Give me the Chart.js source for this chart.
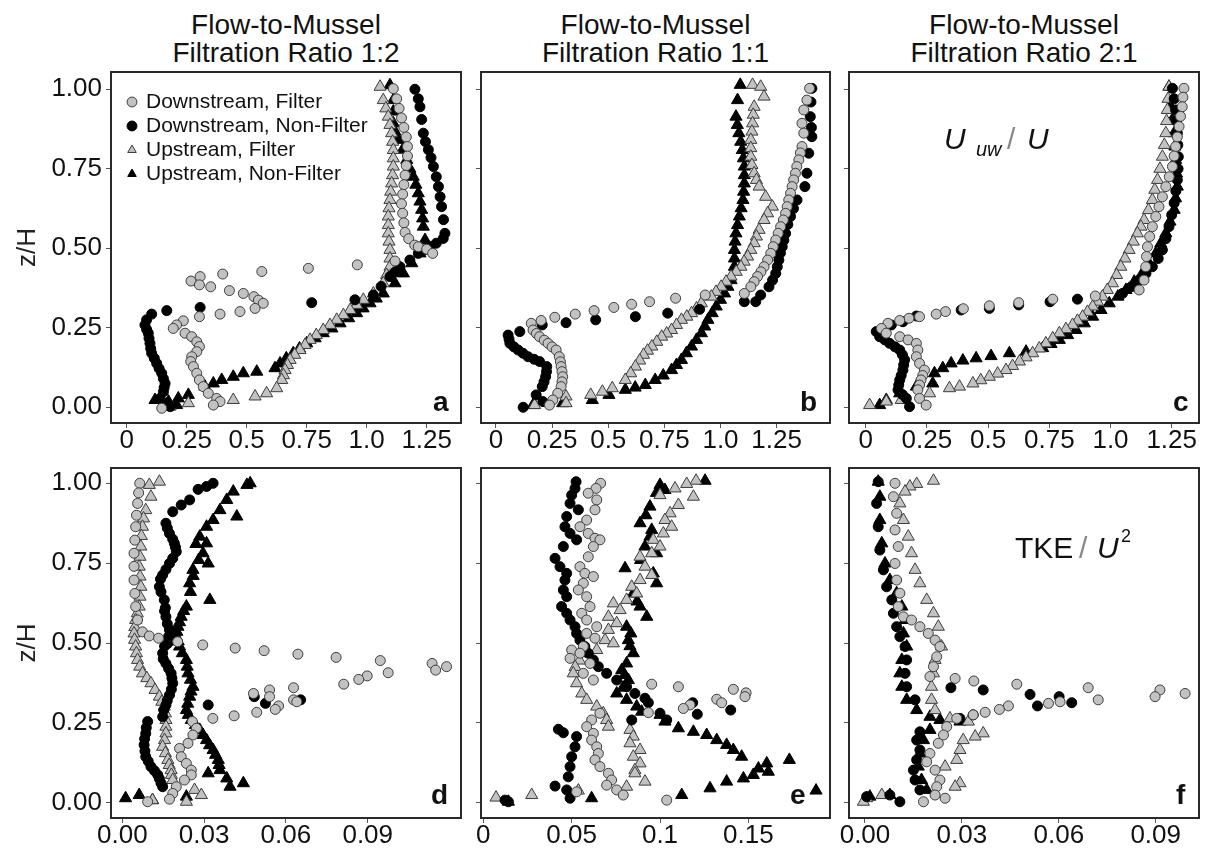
<!DOCTYPE html>
<html lang="en">
<head>
<meta charset="UTF-8" />
<title>Flow-to-Mussel profiles</title>
<script src="https://cdn.jsdelivr.net/npm/chart.js@4.4.1/dist/chart.umd.min.js"></script>
<style>
  body { margin: 0; width: 1207px; height: 852px; position: relative; overflow: hidden; background: #fff;
         font-family: "Liberation Sans", Arial, sans-serif; color: #111; }
  canvas { position: absolute; }
  .ttl { position: absolute; top: 11px; text-align: center; font-size: 28px; line-height: 28px; }
  .tag { position: absolute; font-size: 28px; line-height: 28px; font-weight: bold; }
  .ann { position: absolute; font-size: 30px; line-height: 30px; white-space: nowrap; }
</style>
</head>
<body>
<div class="ttl" style="left:111px;width:350px">Flow-to-Mussel<br>Filtration Ratio 1:2</div>
<div class="ttl" style="left:481px;width:349px">Flow-to-Mussel<br>Filtration Ratio 1:1</div>
<div class="ttl" style="left:849px;width:350px">Flow-to-Mussel<br>Filtration Ratio 2:1</div>

<script>
// tick values / labels
const Z_TICKS = [0, 0.25, 0.5, 0.75, 1];
const Z_LABELS = ["0.00", "0.25", "0.50", "0.75", "1.00"];
const U_TICKS = [0, 0.25, 0.5, 0.75, 1, 1.25];
const U_LABELS = ["0", "0.25", "0.5", "0.75", "1.0", "1.25"];
const TKE_TICKS = [0, 0.03, 0.06, 0.09];
const TKE_LABELS = ["0.00", "0.03", "0.06", "0.09"];
const E_TICKS = [0, 0.05, 0.1, 0.15];
const E_LABELS = ["0", "0.05", "0.1", "0.15"];
const SERIES = ["Downstream, Filter", "Downstream, Non-Filter", "Upstream, Filter", "Upstream, Non-Filter"];

// (a) Uuw/U, ratio 1:2   [x, z/H]
const aDF = [[1.111,1.002],[1.125,0.97],[1.135,0.94],[1.145,0.91],[1.155,0.88],[1.165,0.85],[1.17,0.82],[1.17,0.79],[1.165,0.76],[1.16,0.73],[1.155,0.7],[1.15,0.67],[1.145,0.64],[1.15,0.61],[1.155,0.58],[1.16,0.55],[1.175,0.53],[1.2,0.51],[1.215,0.505],[1.25,0.497],[1.275,0.484],[1.118,0.46],
  [0.961,0.448],[0.757,0.437],[0.563,0.427],[0.4,0.419],[0.306,0.411],[0.268,0.397],[0.303,0.385],[0.35,0.379],[0.428,0.367],[0.486,0.358],[0.53,0.348],[0.549,0.337],[0.569,0.327],[0.535,0.311],[0.472,0.301],[0.389,0.293],[0.303,0.285],
  [0.236,0.272],[0.208,0.259],[0.194,0.248],[0.243,0.233],[0.271,0.222],[0.292,0.206],[0.303,0.191],[0.292,0.175],[0.271,0.159],[0.267,0.144],[0.278,0.128],[0.292,0.107],[0.303,0.086],[0.319,0.065],[0.34,0.044],[0.375,0.028],[0.389,0.018],[0.361,0.007],[0.146,-0.003]];
const aDNF = [[1.201,1.0],[1.215,0.97],[1.222,0.945],[1.229,0.905],[1.236,0.862],[1.245,0.835],[1.257,0.81],[1.268,0.785],[1.278,0.757],[1.29,0.725],[1.299,0.694],[1.306,0.662],[1.312,0.631],[1.32,0.59],[1.326,0.547],[1.319,0.531],[1.29,0.516],[1.264,0.505],[1.24,0.495],[1.215,0.484],[1.18,0.463],[1.139,0.442],[1.118,0.425],[1.097,0.411],[1.06,0.38],[1.028,0.353],[0.951,0.338],
  [0.771,0.329],[0.306,0.314],[0.167,0.304],
  [0.104,0.293],[0.083,0.275],[0.076,0.259],[0.083,0.245],[0.09,0.233],[0.093,0.217],[0.097,0.201],[0.1,0.185],[0.104,0.17],[0.115,0.154],[0.125,0.138],[0.135,0.122],[0.146,0.107],[0.153,0.09],[0.16,0.075],[0.156,0.062],[0.153,0.049],[0.139,0.028],[0.167,0.013],[0.181,0.002]];
const aUF = [[1.056,1.008],[1.069,0.966],[1.08,0.94],[1.09,0.914],[1.097,0.888],[1.104,0.862],[1.108,0.835],[1.111,0.809],[1.111,0.783],[1.111,0.757],[1.108,0.73],[1.104,0.704],[1.1,0.678],[1.097,0.652],[1.093,0.626],[1.09,0.6],[1.09,0.573],[1.09,0.547],[1.093,0.521],[1.097,0.495],[1.097,0.468],[1.097,0.442],[1.083,0.416],[1.069,0.39],[1.028,0.358],[0.986,0.338],[0.958,0.322],[0.931,0.306],[0.903,0.29],[0.875,0.275],[0.847,0.259],[0.819,0.243],[0.79,0.227],[0.764,0.212],[0.743,0.196],[0.722,0.18],[0.7,0.165],[0.681,0.149],[0.67,0.133],[0.66,0.117],[0.653,0.101],[0.646,0.086],[0.625,0.06],[0.583,0.044],[0.535,0.034],[0.444,0.023],[0.257,0.013],[0.181,0.002]];
const aUNF = [[1.097,1.013],[1.111,0.966],[1.111,0.93],[1.111,0.893],[1.118,0.867],[1.132,0.841],[1.15,0.81],[1.167,0.778],[1.18,0.75],[1.194,0.725],[1.205,0.7],[1.215,0.673],[1.222,0.647],[1.229,0.621],[1.233,0.594],[1.236,0.568],[1.243,0.526],[1.222,0.484],[1.188,0.453],[1.153,0.421],[1.118,0.39],[1.069,0.358],[1.04,0.342],[1.014,0.327],[0.985,0.311],[0.958,0.296],[0.925,0.28],[0.889,0.264],[0.855,0.248],[0.819,0.233],[0.785,0.217],[0.75,0.201],[0.72,0.185],[0.694,0.17],[0.665,0.154],[0.639,0.138],[0.618,0.123],[0.542,0.112],[0.486,0.107],[0.444,0.096],[0.396,0.086],[0.361,0.075],[0.326,0.065],[0.257,0.039],[0.215,0.028],[0.174,0.018],[0.118,0.023],[0.208,0.007]];

// (b) Uuw/U, ratio 1:1
const bDF = [[1.397,1.003],[1.385,0.966],[1.371,0.935],[1.363,0.893],[1.371,0.862],[1.363,0.82],[1.356,0.8],[1.349,0.778],[1.34,0.757],[1.334,0.736],[1.326,0.715],[1.319,0.694],[1.312,0.673],[1.304,0.652],[1.297,0.631],[1.29,0.61],[1.28,0.589],[1.268,0.568],[1.257,0.547],[1.246,0.526],[1.235,0.505],[1.224,0.484],[1.21,0.463],[1.194,0.442],[1.18,0.426],[1.165,0.411],[1.15,0.395],[1.135,0.379],[1.106,0.358],
  [0.932,0.353],[0.8,0.343],[0.684,0.332],[0.604,0.324],[0.525,0.314],[0.437,0.304],[0.353,0.293],[0.262,0.283],[0.201,0.273],
  [0.157,0.264],[0.165,0.243],[0.18,0.232],[0.194,0.222],[0.215,0.211],[0.232,0.201],[0.25,0.19],[0.268,0.18],[0.282,0.159],[0.287,0.143],[0.29,0.128],[0.294,0.112],[0.297,0.096],[0.294,0.08],[0.29,0.065],[0.275,0.044],[0.253,0.023],[0.238,0.007]];
const bDNF = [[1.407,1.003],[1.403,0.96],[1.4,0.914],[1.405,0.88],[1.407,0.851],[1.393,0.799],[1.385,0.736],[1.376,0.694],[1.341,0.652],[1.325,0.625],[1.312,0.6],[1.3,0.575],[1.29,0.547],[1.282,0.525],[1.275,0.505],[1.267,0.485],[1.26,0.463],[1.253,0.442],[1.246,0.421],[1.232,0.4],[1.216,0.379],[1.179,0.353],[1.157,0.332],[1.106,0.332],
  [0.907,0.308],[0.765,0.296],[0.621,0.285],[0.444,0.275],[0.312,0.266],[0.206,0.259],[0.106,0.238],
  [0.054,0.227],[0.058,0.214],[0.062,0.201],[0.08,0.19],[0.099,0.18],[0.12,0.17],[0.143,0.159],[0.17,0.151],[0.194,0.144],[0.226,0.128],[0.225,0.112],[0.221,0.096],[0.214,0.08],[0.206,0.065],[0.179,0.039],[0.209,0.018],[0.121,0.0]];
const bUF = [[1.143,1.014],[1.179,1.008],[1.194,0.977],[1.15,0.945],[1.146,0.92],[1.143,0.893],[1.14,0.867],[1.135,0.841],[1.135,0.815],[1.135,0.788],[1.14,0.762],[1.15,0.736],[1.16,0.715],[1.172,0.694],[1.201,0.662],[1.231,0.631],[1.21,0.61],[1.194,0.589],[1.172,0.558],[1.16,0.537],[1.15,0.516],[1.135,0.495],[1.121,0.474],[1.105,0.458],[1.091,0.442],[1.07,0.426],[1.047,0.411],[1.025,0.395],[1.003,0.379],[0.98,0.363],[0.959,0.348],[0.915,0.327],[0.893,0.311],[0.871,0.296],[0.85,0.285],[0.826,0.275],[0.804,0.259],[0.782,0.243],[0.76,0.232],[0.738,0.222],[0.716,0.206],[0.694,0.191],[0.675,0.178],[0.657,0.165],[0.64,0.147],[0.621,0.128],[0.6,0.107],[0.576,0.086],[0.518,0.06],[0.474,0.049],[0.422,0.039],[0.312,0.034],[0.312,0.013],[0.172,0.007]];
const bUNF = [[1.088,1.014],[1.076,0.966],[1.069,0.914],[1.075,0.888],[1.082,0.862],[1.09,0.835],[1.097,0.809],[1.102,0.783],[1.106,0.757],[1.106,0.73],[1.106,0.704],[1.103,0.678],[1.1,0.652],[1.092,0.626],[1.084,0.6],[1.076,0.573],[1.069,0.547],[1.065,0.521],[1.062,0.495],[1.062,0.468],[1.062,0.442],[1.047,0.4],[1.033,0.379],[1.018,0.358],[1.0,0.338],[0.981,0.317],[0.963,0.296],[0.944,0.275],[0.93,0.254],[0.915,0.233],[0.893,0.212],[0.871,0.191],[0.848,0.17],[0.826,0.149],[0.804,0.133],[0.782,0.117],[0.745,0.1],[0.709,0.086],[0.665,0.07],[0.62,0.062],[0.576,0.055],[0.503,0.039],[0.429,0.023],[0.297,0.013],[0.165,0.007]];

// (c) Uuw/U, ratio 2:1
const cDF = [[1.3,1.003],[1.296,0.975],[1.293,0.945],[1.286,0.915],[1.28,0.883],[1.273,0.85],[1.266,0.82],[1.26,0.79],[1.253,0.757],[1.24,0.725],[1.226,0.694],[1.212,0.662],[1.198,0.631],[1.185,0.6],[1.171,0.568],[1.16,0.537],[1.151,0.505],[1.147,0.474],[1.144,0.442],[1.137,0.4],[1.117,0.369],
  [0.938,0.35],[0.764,0.34],[0.625,0.329],[0.505,0.319],[0.399,0.31],[0.326,0.301],[0.288,0.293],[0.22,0.285],[0.177,0.28],[0.139,0.273],[0.091,0.264],
  [0.064,0.248],[0.084,0.233],[0.139,0.222],[0.173,0.212],[0.207,0.201],[0.213,0.18],[0.207,0.159],[0.22,0.138],[0.24,0.117],[0.233,0.1],[0.226,0.086],[0.22,0.07],[0.213,0.055],[0.22,0.028],[0.247,0.007]];
const cDNF = [[1.253,1.003],[1.26,0.97],[1.266,0.935],[1.27,0.9],[1.273,0.862],[1.275,0.825],[1.277,0.788],[1.276,0.75],[1.273,0.715],[1.267,0.68],[1.26,0.642],[1.25,0.605],[1.239,0.568],[1.226,0.53],[1.212,0.495],[1.195,0.468],[1.171,0.442],[1.145,0.421],[1.117,0.4],[1.085,0.379],[1.049,0.358],
  [0.865,0.34],[0.753,0.332],[0.625,0.322],[0.505,0.311],[0.39,0.306],[0.207,0.287],[0.152,0.269],[0.105,0.259],
  [0.043,0.238],[0.057,0.222],[0.078,0.212],[0.098,0.201],[0.12,0.19],[0.139,0.18],[0.15,0.165],[0.159,0.149],[0.155,0.133],[0.152,0.117],[0.145,0.1],[0.139,0.086],[0.135,0.07],[0.132,0.055],[0.15,0.04],[0.166,0.028],[0.179,0.002]];
const cUF = [[1.239,1.008],[1.235,0.97],[1.232,0.935],[1.229,0.9],[1.226,0.862],[1.22,0.825],[1.212,0.788],[1.202,0.75],[1.192,0.715],[1.181,0.684],[1.171,0.652],[1.155,0.62],[1.137,0.589],[1.124,0.568],[1.11,0.547],[1.093,0.521],[1.076,0.495],[1.059,0.468],[1.042,0.442],[1.025,0.416],[1.008,0.39],[0.987,0.369],[0.967,0.348],[0.947,0.332],[0.927,0.317],[0.906,0.3],[0.886,0.285],[0.865,0.272],[0.845,0.259],[0.818,0.246],[0.791,0.233],[0.764,0.217],[0.736,0.201],[0.709,0.185],[0.682,0.17],[0.655,0.157],[0.628,0.144],[0.6,0.13],[0.573,0.117],[0.539,0.106],[0.505,0.096],[0.47,0.085],[0.438,0.075],[0.383,0.065],[0.342,0.06],[0.261,0.044],[0.145,0.023],[0.084,0.018],[0.016,0.007]];
const cUNF = [[1.239,1.008],[1.246,0.945],[1.253,0.905],[1.26,0.862],[1.263,0.82],[1.266,0.778],[1.27,0.735],[1.273,0.694],[1.266,0.657],[1.26,0.621],[1.243,0.584],[1.226,0.547],[1.205,0.515],[1.185,0.484],[1.158,0.452],[1.13,0.421],[1.097,0.395],[1.063,0.369],[1.03,0.348],[0.995,0.327],[0.961,0.306],[0.927,0.285],[0.893,0.264],[0.859,0.243],[0.825,0.227],[0.791,0.212],[0.757,0.199],[0.723,0.186],[0.655,0.175],[0.587,0.17],[0.512,0.161],[0.451,0.154],[0.397,0.147],[0.349,0.138],[0.315,0.123],[0.281,0.107],[0.274,0.075],[0.207,0.065],[0.139,0.044],[0.084,0.023],[0.057,0.007]];

// (d) TKE/U^2, ratio 1:2
const dDF = [[0.0064,1.0],[0.006,0.97],[0.0056,0.937],[0.0052,0.9],[0.0049,0.864],[0.0046,0.822],[0.0043,0.781],[0.0043,0.74],[0.0043,0.697],[0.0046,0.655],[0.0049,0.614],[0.0056,0.572],[0.0074,0.535],[0.0099,0.522],[0.0133,0.515],
  [0.0203,0.504],[0.0295,0.494],[0.0414,0.484],[0.052,0.476],[0.0644,0.465],[0.0784,0.455],[0.0946,0.445],[0.1136,0.436],[0.1189,0.426],[0.1149,0.415],[0.0975,0.407],[0.0898,0.397],[0.0867,0.386],[0.0812,0.371],[0.0628,0.36],[0.054,0.353],[0.0481,0.342],[0.054,0.332],[0.0628,0.322],[0.064,0.316],[0.0573,0.303],[0.0561,0.292],[0.0493,0.283],[0.041,0.272],[0.0332,0.264],[0.0257,0.254],
  [0.0272,0.233],[0.0259,0.212],[0.0241,0.186],[0.021,0.17],[0.0216,0.144],[0.0235,0.123],[0.0253,0.102],[0.0253,0.087],[0.0228,0.071],[0.0198,0.05],[0.0185,0.029],[0.0173,0.011],[0.0093,0.003]];
const dDNF = [[0.0333,1.0],[0.0309,0.99],[0.0278,0.981],[0.0247,0.948],[0.0216,0.932],[0.0185,0.911],[0.016,0.875],[0.0165,0.86],[0.0173,0.843],[0.0185,0.825],[0.0191,0.812],[0.0195,0.8],[0.0198,0.786],[0.0185,0.765],[0.0173,0.749],[0.016,0.73],[0.0148,0.713],[0.014,0.7],[0.0136,0.676],[0.0142,0.66],[0.0154,0.635],[0.0158,0.61],[0.0155,0.6],[0.016,0.582],[0.0165,0.56],[0.0173,0.541],[0.017,0.52],[0.0167,0.499],[0.0155,0.49],[0.0148,0.468],[0.015,0.45],[0.016,0.436],[0.017,0.42],[0.0179,0.405],[0.0182,0.39],[0.0185,0.374],[0.018,0.355],[0.0173,0.337],[0.0165,0.32],[0.016,0.306],[0.0152,0.29],[0.0148,0.269],
  [0.0315,0.306],[0.0484,0.332],[0.0525,0.311],[0.0654,0.322],
  [0.0093,0.254],[0.0088,0.235],[0.0086,0.217],[0.0082,0.2],[0.008,0.181],[0.0083,0.162],[0.0086,0.144],[0.0095,0.13],[0.0105,0.113],[0.0118,0.1],[0.013,0.087],[0.0136,0.075],[0.0142,0.061],[0.0148,0.05]];
const dUF = [[0.0136,1.005],[0.0099,0.995],[0.0105,0.958],[0.0086,0.916],[0.0078,0.89],[0.0074,0.864],[0.007,0.835],[0.0068,0.802],[0.0065,0.77],[0.0062,0.739],[0.0065,0.708],[0.0068,0.676],[0.0065,0.645],[0.0062,0.614],[0.0055,0.593],[0.0049,0.572],[0.0046,0.55],[0.0043,0.53],[0.0045,0.51],[0.0049,0.489],[0.0052,0.468],[0.0056,0.447],[0.0064,0.426],[0.0074,0.405],[0.009,0.39],[0.0105,0.374],[0.012,0.353],[0.0136,0.332],[0.0145,0.316],[0.0154,0.301],[0.0158,0.28],[0.016,0.259],[0.016,0.238],[0.016,0.217],[0.0155,0.196],[0.0148,0.175],[0.0158,0.155],[0.0167,0.134],[0.0172,0.118],[0.0179,0.102],[0.018,0.087],[0.0185,0.071],[0.0265,0.04],[0.029,0.024],[0.0235,0.003],[0.0111,0.008]];
const dUNF = [[0.0469,1.0],[0.0457,0.995],[0.0407,0.974],[0.0383,0.948],[0.0358,0.916],[0.042,0.896],[0.0333,0.885],[0.0309,0.864],[0.0284,0.833],[0.0309,0.812],[0.027,0.81],[0.0296,0.781],[0.028,0.76],[0.0315,0.749],[0.0259,0.729],[0.026,0.71],[0.0247,0.687],[0.025,0.66],[0.0321,0.635],[0.0235,0.614],[0.0225,0.6],[0.0216,0.582],[0.021,0.565],[0.0204,0.551],[0.02,0.535],[0.0198,0.52],[0.0205,0.505],[0.021,0.489],[0.022,0.468],[0.0235,0.447],[0.0238,0.426],[0.0241,0.405],[0.025,0.385],[0.0259,0.363],[0.0252,0.348],[0.0247,0.332],[0.024,0.31],[0.0235,0.29],[0.0242,0.275],[0.0253,0.259],[0.0268,0.243],[0.0284,0.228],[0.0296,0.212],[0.0309,0.196],[0.032,0.18],[0.0333,0.165],[0.0342,0.15],[0.0352,0.134],[0.0355,0.118],[0.0358,0.102],[0.0315,0.092],[0.0383,0.076],[0.0444,0.061],[0.0395,0.05],[0.0235,0.019],[0.0111,0.008],[0.0062,0.024],[0.0012,0.014]];

// (e) TKE/U^2, ratio 1:1
const eDF = [[0.0664,1.0],[0.0638,0.984],[0.0594,0.969],[0.0642,0.948],[0.0632,0.917],[0.0585,0.885],[0.0547,0.864],[0.0594,0.843],[0.0632,0.828],[0.066,0.823],[0.0623,0.802],[0.0594,0.77],[0.0547,0.739],[0.0575,0.718],[0.0623,0.708],[0.0566,0.687],[0.0538,0.666],[0.0585,0.645],[0.0604,0.614],[0.0557,0.593],[0.0585,0.572],[0.0642,0.551],[0.0585,0.53],[0.0632,0.515],[0.0566,0.489],[0.05,0.478],[0.0491,0.452],[0.0547,0.468],[0.0604,0.436],[0.0566,0.405],[0.0623,0.384],
  [0.0953,0.371],[0.1104,0.363],[0.1415,0.355],[0.1487,0.344],[0.1481,0.332],[0.1321,0.324],[0.1349,0.313],[0.117,0.306],[0.1132,0.295],[0.0934,0.282],
  [0.066,0.28],[0.0613,0.259],[0.0585,0.238],[0.0623,0.217],[0.0613,0.196],[0.0642,0.175],[0.0651,0.154],[0.0632,0.134],[0.066,0.113],[0.0708,0.092],[0.0726,0.071],[0.0698,0.055],[0.0755,0.04],[0.0792,0.024],[0.0528,0.034],[0.1038,0.008]];
const eDNF = [[0.0525,1.005],[0.0519,0.984],[0.05,0.963],[0.0491,0.937],[0.0538,0.917],[0.0472,0.896],[0.0462,0.864],[0.0491,0.843],[0.0528,0.823],[0.0453,0.802],[0.0406,0.765],[0.0434,0.739],[0.0472,0.718],[0.0462,0.697],[0.0453,0.666],[0.0472,0.645],[0.0443,0.614],[0.0472,0.593],[0.0491,0.572],[0.0519,0.551],[0.0528,0.53],[0.0547,0.509],[0.0575,0.489],[0.0594,0.468],[0.0623,0.447],[0.0651,0.426],[0.0698,0.405],[0.0755,0.384],[0.0811,0.363],[0.0858,0.342],[0.0915,0.327],[0.0934,0.313],
  [0.084,0.259],[0.1,0.28],[0.1038,0.259],[0.1185,0.313],[0.1211,0.277],[0.14,0.29],
  [0.0425,0.23],[0.0453,0.219],[0.0528,0.207],[0.0519,0.175],[0.05,0.144],[0.0491,0.113],[0.0481,0.081],[0.0406,0.052],[0.0472,0.04],[0.0491,0.014],[0.0142,0.003],[0.0123,0.008]];
const eUF = [[0.1204,1.008],[0.1151,0.998],[0.1085,0.984],[0.1,0.963],[0.1189,0.958],[0.1104,0.932],[0.1057,0.906],[0.1028,0.885],[0.1066,0.864],[0.1019,0.843],[0.0962,0.823],[0.1,0.802],[0.0953,0.781],[0.0887,0.77],[0.0915,0.739],[0.0953,0.713],[0.0887,0.697],[0.084,0.676],[0.0868,0.655],[0.0811,0.635],[0.0736,0.624],[0.0774,0.603],[0.0708,0.582],[0.0755,0.562],[0.0708,0.541],[0.0689,0.509],[0.0736,0.499],[0.0642,0.478],[0.0594,0.468],[0.0545,0.445],[0.052,0.425],[0.0509,0.405],[0.0528,0.374],[0.0557,0.342],[0.0585,0.322],[0.0642,0.301],[0.0679,0.28],[0.0698,0.259],[0.0708,0.238],[0.083,0.228],[0.0849,0.207],[0.083,0.186],[0.0887,0.165],[0.0849,0.144],[0.0887,0.123],[0.0858,0.102],[0.0858,0.092],[0.0915,0.066],[0.0811,0.05],[0.0538,0.038],[0.0274,0.024],[0.0072,0.016]];
const eUNF = [[0.1255,1.008],[0.1,0.995],[0.1028,0.979],[0.098,0.97],[0.0943,0.927],[0.092,0.9],[0.0887,0.875],[0.0953,0.854],[0.0943,0.833],[0.0915,0.802],[0.0981,0.781],[0.089,0.76],[0.0802,0.734],[0.0962,0.718],[0.0981,0.687],[0.0849,0.655],[0.087,0.63],[0.0887,0.614],[0.0925,0.582],[0.0811,0.551],[0.0835,0.53],[0.0821,0.509],[0.083,0.49],[0.0849,0.468],[0.0811,0.436],[0.0783,0.415],[0.08,0.4],[0.0821,0.384],[0.079,0.36],[0.0755,0.342],[0.0811,0.322],[0.0868,0.301],[0.0896,0.285],[0.1,0.275],[0.1028,0.254],[0.1104,0.233],[0.1189,0.222],[0.1264,0.212],[0.1321,0.196],[0.1377,0.181],[0.1415,0.165],[0.1462,0.144],[0.1732,0.134],[0.1604,0.123],[0.1557,0.107],[0.1613,0.097],[0.1528,0.087],[0.1472,0.076],[0.1377,0.066],[0.1283,0.045],[0.1123,0.024],[0.1883,0.038],[0.0613,0.014],[0.0142,0.003]];

// (f) TKE/U^2, ratio 2:1
const fDF = [[0.0093,1.0],[0.0088,0.958],[0.0098,0.906],[0.0093,0.854],[0.0103,0.802],[0.0093,0.749],[0.0098,0.697],[0.0108,0.656],[0.0103,0.614],[0.0119,0.582],[0.0144,0.572],[0.017,0.551],[0.0196,0.53],[0.0217,0.509],[0.0232,0.489],[0.0222,0.457],[0.0212,0.426],[0.0201,0.395],
  [0.0279,0.389],[0.0337,0.381],[0.047,0.371],[0.0691,0.36],[0.0913,0.353],[0.0991,0.342],[0.0898,0.332],[0.0722,0.322],[0.0604,0.316],[0.0568,0.311],[0.0444,0.303],[0.0416,0.292],[0.0372,0.283],[0.0335,0.275],[0.0284,0.264],
  [0.0253,0.238],[0.0243,0.212],[0.0227,0.186],[0.0201,0.154],[0.0191,0.128],[0.0217,0.102],[0.0232,0.071],[0.0222,0.05],[0.0217,0.024],[0.0248,0.014],[0.0181,0.003]];
const fDNF = [[0.0041,1.005],[0.0036,0.937],[0.0041,0.864],[0.0046,0.791],[0.0057,0.729],[0.0067,0.676],[0.0083,0.635],[0.0088,0.593],[0.0098,0.551],[0.0108,0.52],[0.0124,0.489],[0.0129,0.447],[0.0124,0.405],[0.0129,0.363],[0.0155,0.322],
  [0.0266,0.36],[0.0366,0.353],[0.0511,0.339],[0.0534,0.303],[0.0601,0.332],[0.064,0.313],[0.0294,0.264],[0.0335,0.275],
  [0.017,0.222],[0.016,0.196],[0.017,0.165],[0.016,0.134],[0.015,0.102],[0.0155,0.071],[0.017,0.04],[0.0108,0.003],[0.0077,0.024],[0.0005,0.019]];
const fUF = [[0.0212,1.008],[0.016,0.998],[0.0139,0.99],[0.0124,0.974],[0.0108,0.937],[0.0119,0.885],[0.0134,0.833],[0.0144,0.781],[0.0155,0.729],[0.017,0.687],[0.0191,0.635],[0.0212,0.593],[0.0227,0.551],[0.0237,0.489],[0.0217,0.447],[0.0212,0.405],[0.0206,0.363],[0.0206,0.322],[0.0217,0.29],[0.0263,0.264],[0.032,0.254],[0.0366,0.217],[0.0341,0.207],[0.0304,0.196],[0.0294,0.165],[0.0284,0.134],[0.0248,0.113],[0.0294,0.061],[0.0279,0.05],[0.0052,0.024],[0.0005,0.014],[-0.0005,0.003]];
const fUNF = [[0.0041,1.005],[0.0046,0.958],[0.0046,0.885],[0.0052,0.812],[0.0062,0.749],[0.0077,0.697],[0.0098,0.656],[0.0114,0.614],[0.0124,0.572],[0.0119,0.53],[0.0129,0.489],[0.0114,0.447],[0.0108,0.405],[0.0114,0.363],[0.0129,0.322],[0.016,0.29],[0.0201,0.269],[0.0232,0.259],[0.0294,0.254],[0.0201,0.228],[0.0181,0.196],[0.017,0.154],[0.0165,0.113],[0.0175,0.071],[0.0191,0.04],[0.0077,0.024],[0.0015,0.019]];

// marker look for the four series
const STYLES = [
  { pointStyle: "circle", pointRadius: 5, backgroundColor: "#c2c2c2", borderColor: "#3d3d3d" },
  { pointStyle: "circle", pointRadius: 5, backgroundColor: "#000", borderColor: "#000" },
  { pointStyle: "triangle", pointRadius: 7, backgroundColor: "#c2c2c2", borderColor: "#3d3d3d" },
  { pointStyle: "triangle", pointRadius: 7, backgroundColor: "#000", borderColor: "#000" },
];

const FONT = "'Liberation Sans', Arial, sans-serif";
const PAD = 4;
const XAXIS_H = 34;

// panel boxes = plot area in page pixels
const panels = [
  { left: 111, top: 72, w: 350, h: 351, x: [-0.0654, 1.393], y: [-0.0494, 1.0544], xt: U_TICKS, xl: U_LABELS, sets: [aDF, aDNF, aUF, aUNF], first: true, legend: true },
  { left: 481, top: 72, w: 349, h: 351, x: [-0.0668, 1.4878], y: [-0.0494, 1.0544], xt: U_TICKS, xl: U_LABELS, sets: [bDF, bDNF, bUF, bUNF] },
  { left: 849, top: 72, w: 350, h: 351, x: [-0.0682, 1.3615], y: [-0.0494, 1.0544], xt: U_TICKS, xl: U_LABELS, sets: [cDF, cDNF, cUF, cUNF] },
  { left: 111, top: 468, w: 350, h: 350, x: [-0.00414, 0.1242], y: [-0.0479, 1.0479], xt: TKE_TICKS, xl: TKE_LABELS, sets: [dDF, dDNF, dUF, dUNF], first: true },
  { left: 481, top: 468, w: 349, h: 350, x: [-0.0013, 0.1962], y: [-0.0479, 1.0479], xt: E_TICKS, xl: E_LABELS, sets: [eDF, eDNF, eUF, eUNF] },
  { left: 849, top: 468, w: 350, h: 350, x: [-0.00495, 0.1034], y: [-0.0479, 1.0479], xt: TKE_TICKS, xl: TKE_LABELS, sets: [fDF, fDNF, fUF, fUNF] },
];

// box around the plot area
const framePlugin = {
  id: "frame",
  afterDraw(chart) {
    const { ctx, chartArea: c } = chart;
    ctx.save();
    ctx.strokeStyle = "#2a2a2a";
    ctx.lineWidth = 2;
    ctx.strokeRect(c.left, c.top, c.right - c.left, c.bottom - c.top);
    ctx.restore();
  },
};

// nudge the in-plot legend off the corner
const legendShift = {
  id: "legendShift",
  afterLayout(chart) {
    const lg = chart.legend;
    if (lg && lg.options.display) {
      lg.left += 14.5;
      lg.top += 20.5;
    }
  },
};

panels.forEach((p) => {
  const yW = p.first ? p.left : 10;
  const cv = document.createElement("canvas");
  cv.width = yW + p.w + PAD;
  cv.height = PAD + p.h + XAXIS_H;
  cv.style.left = p.left - yW + "px";
  cv.style.top = p.top - PAD + "px";
  document.body.appendChild(cv);

  new Chart(cv, {
    type: "scatter",
    data: {
      datasets: p.sets.map((s, i) => ({
        label: SERIES[i],
        data: s.map((d) => ({ x: d[0], y: d[1] })),
        pointStyle: STYLES[i].pointStyle,
        pointRadius: STYLES[i].pointRadius,
        backgroundColor: STYLES[i].backgroundColor,
        borderColor: STYLES[i].borderColor,
        borderWidth: 1,
      })),
    },
    options: {
      responsive: false,
      animation: false,
      devicePixelRatio: 1,
      events: [],
      layout: { autoPadding: false, padding: { left: 0, top: PAD, right: PAD, bottom: 0 } },
      scales: {
        x: {
          type: "linear",
          min: p.x[0],
          max: p.x[1],
          afterBuildTicks: (s) => { s.ticks = p.xt.map((v) => ({ value: v })); },
          afterFit: (s) => { s.height = XAXIS_H; s.paddingLeft = 0; s.paddingRight = 0; },
          ticks: {
            autoSkip: false,
            maxRotation: 0,
            padding: 0,
            color: "#111",
            font: { family: FONT, size: 26, lineHeight: 1 },
            callback: (v, i) => p.xl[i],
          },
          grid: { drawOnChartArea: false, tickLength: 5, color: "#555" },
          border: { display: false },
        },
        y: {
          type: "linear",
          min: p.y[0],
          max: p.y[1],
          afterBuildTicks: (s) => { s.ticks = Z_TICKS.map((v) => ({ value: v })); },
          afterFit: (s) => { s.width = yW; s.paddingTop = 0; s.paddingBottom = 0; },
          ticks: {
            autoSkip: false,
            padding: 4,
            color: "#111",
            font: { family: FONT, size: 26, lineHeight: 1 },
            callback: (v, i) => (p.first ? Z_LABELS[i] : ""),
          },
          grid: { drawOnChartArea: false, tickLength: 5, color: "#555" },
          border: { display: false },
          title: {
            display: !!p.first,
            text: "z/H",
            color: "#222",
            font: { family: FONT, size: 26 },
            padding: { top: 12, bottom: 0 },
          },
        },
      },
      plugins: {
        legend: {
          display: !!p.legend,
          position: "chartArea",
          align: "start",
          labels: {
            usePointStyle: true,
            boxWidth: 7,
            boxHeight: 7,
            padding: 3,
            color: "#111",
            font: { family: FONT, size: 21 },
          },
        },
        tooltip: { enabled: false },
      },
    },
    plugins: [framePlugin, legendShift],
  });
});
</script>

<div class="tag" style="left:433px;top:388px">a</div>
<div class="tag" style="left:800px;top:388px">b</div>
<div class="tag" style="left:1173px;top:388px">c</div>
<div class="tag" style="left:431px;top:781px">d</div>
<div class="tag" style="left:790px;top:781px">e</div>
<div class="tag" style="left:1176px;top:781px">f</div>

<div class="ann" style="left:944px;top:124px"><i>U</i></div>
<div class="ann" style="left:976px;top:139px;font-size:20px;line-height:20px"><i>uw</i></div>
<div class="ann" style="left:1007px;top:124px;color:#888">/</div>
<div class="ann" style="left:1027px;top:124px"><i>U</i></div>

<div class="ann" style="left:1015px;top:533px">TKE</div>
<div class="ann" style="left:1079px;top:533px;color:#888">/</div>
<div class="ann" style="left:1097px;top:533px"><i>U</i></div>
<div class="ann" style="left:1121px;top:527px;font-size:18px;line-height:18px">2</div>
</body>
</html>
